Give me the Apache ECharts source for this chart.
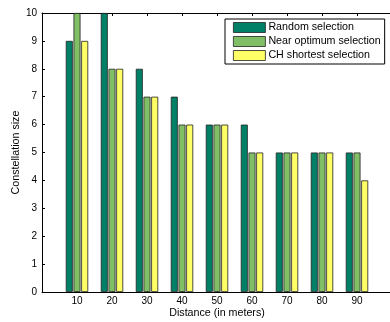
<!DOCTYPE html>
<html><head><meta charset="utf-8">
<script src="https://cdn.jsdelivr.net/npm/echarts@6/dist/echarts.min.js"></script>
<style>html,body{margin:0;padding:0;background:#fff;overflow:hidden}#c{width:390px;height:322px}</style>
</head><body><div id="c"></div>
<script>
const categories = [10, 20, 30, 40, 50, 60, 70, 80, 90];
const randomSel = [9, 10, 8, 7, 6, 6, 5, 5, 5];
const nearOptSel = [10, 8, 7, 6, 6, 5, 5, 5, 5];
const chShortestSel = [9, 8, 7, 6, 6, 5, 5, 5, 4];
const seriesNames = ['Random selection', 'Near optimum selection', 'CH shortest selection'];
const colors = ['#008066', '#80BF66', '#FFFF66'];
const yTicks = [0,1,2,3,4,5,6,7,8,9,10];

const font = 'Liberation Sans, Arial, Helvetica, sans-serif';
const chart = echarts.init(document.getElementById('c'));
const pair = arr => categories.map((c, i) => [c, arr[i]]);
const mk = (name, data, color) => ({
  name, type: 'bar', data: pair(data), barWidth: 7, barGap: '10%',
  itemStyle: { color, borderColor: '#222', borderWidth: 0.8 },
  animation: false
});
chart.setOption({
  animation: false,
  grid: { left: 42, top: 13, width: 350, height: 279, outerBoundsMode: 'none', containLabel: false, show: false },
  graphic: [{
    type: 'rect', right: 0, top: 16, z: 100,
    shape: { width: 4, height: 273 },
    style: { fill: '#fff' }, silent: true
  }],
  legend: {
    orient: 'vertical', left: 225, top: 19,
    itemWidth: 32, itemHeight: 10, itemGap: 3,
    padding: [3, 4, 3, 8],
    borderColor: '#000', borderWidth: 1, backgroundColor: '#fff',
    textStyle: { fontFamily: font, fontSize: 10.7, color: '#000', padding: [0, 0, 0, -2] },
    itemStyle: { borderColor: '#222', borderWidth: 0.8 },
    data: seriesNames.map(n => ({ name: n, icon: 'rect' }))
  },
  xAxis: [{
    type: 'value', min: 0, max: 100, interval: 10,
    name: 'Distance (in meters)', nameLocation: 'middle', nameGap: 16, nameMoveOverlap: false,
    nameTextStyle: { fontFamily: font, fontSize: 10.7, color: '#000' },
    axisLine: { show: true, lineStyle: { color: '#000', width: 1 } },
    axisTick: { show: true, inside: true, length: 3, lineStyle: { color: '#000' } },
    axisLabel: { fontFamily: font, fontSize: 10, color: '#000', margin: 4,
      formatter: v => categories.indexOf(v) >= 0 ? String(v) : '' },
    splitLine: { show: false }
  }, {
    type: 'value', min: 0, max: 100, interval: 10, position: 'top',
    axisLine: { show: true, lineStyle: { color: '#000', width: 1 } },
    axisTick: { show: true, inside: true, length: 3, lineStyle: { color: '#000' } },
    axisLabel: { show: false }, splitLine: { show: false }
  }],
  yAxis: {
    type: 'value', min: 0, max: 10, interval: 1,
    name: 'Constellation size', nameLocation: 'middle', nameGap: 20, nameMoveOverlap: false,
    nameTextStyle: { fontFamily: font, fontSize: 10.7, color: '#000' },
    axisLine: { show: true, lineStyle: { color: '#000', width: 1 } },
    axisTick: { show: true, inside: true, length: 3, lineStyle: { color: '#000' } },
    axisLabel: { fontFamily: font, fontSize: 10, color: '#000', margin: 5,
      formatter: v => yTicks.indexOf(v) >= 0 ? String(v) : '' },
    splitLine: { show: false }
  },
  series: [
    mk(seriesNames[0], randomSel, colors[0]),
    mk(seriesNames[1], nearOptSel, colors[1]),
    mk(seriesNames[2], chShortestSel, colors[2])
  ]
});
</script></body></html>
